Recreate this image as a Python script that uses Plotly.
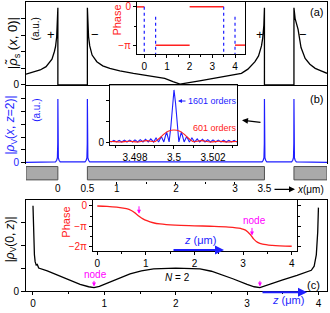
import plotly.graph_objects as go

W, H = 330, 313
def X(p): return p / W
def Y(p): return 1 - p / H

BLUE = "#1e1eff"
RED = "#ff2020"
MAG = "#ff00ff"
FONT = "Liberation Sans, Arial, sans-serif"

# ---------------- data ----------------
# (a) |rho_s(x,0)|
a_x = [-0.54, -0.4, -0.3, -0.2, -0.15, -0.1, -0.06, -0.04, -0.02, -0.01, 0.0, 0.0,
       0.5, 0.5, 0.51, 0.52, 0.54, 0.58, 0.66, 0.76, 0.88, 1.05, 1.28, 1.55, 1.81, 1.95, 2.07,
       2.4, 2.8, 3.11, 3.22, 3.34, 3.4, 3.45, 3.47, 3.49, 3.5, 3.5,
       4.0, 4.0, 4.02, 4.07, 4.12, 4.19, 4.27, 4.36, 4.46, 4.56]
a_y = [0.13, 0.155, 0.18, 0.22, 0.26, 0.31, 0.4, 0.46, 0.58, 0.72, 0.93, 0.0,
       0.0, 0.93, 0.72, 0.58, 0.47, 0.36, 0.28, 0.23, 0.2, 0.17, 0.14, 0.11, 0.08, 0.04, 0.01,
       0.05, 0.1, 0.14, 0.19, 0.28, 0.35, 0.47, 0.56, 0.72, 0.93, 0.0,
       0.0, 0.93, 0.8, 0.67, 0.45, 0.32, 0.25, 0.2, 0.17, 0.14]
plus_minus_x = [-0.12, 0.63, 3.43, 4.16]
plus_minus_txt = ["+", "\u2212", "+", "\u2212"]

# (a) inset: phase (units of pi)
ph_a_x = [-0.32, 0.0, None, 0.5, 2.0, None, 2.0, 3.5, None, 4.0, 4.44]
ph_a_y = [0, 0, None, -1, -1, None, 0, 0, None, -1, -1]
edge_x = [0.0, 0.5, 3.5, 4.0]
edge_top = [0.0, -0.26, 0.0, -0.26]

# (b) |rho_V(x,z=2)|
b_x = [-0.54, -0.04, -0.02, -0.008, -0.002, 0.0, 0.002, 0.008, 0.02, 0.04,
       0.46, 0.48, 0.492, 0.498, 0.5, 0.502, 0.508, 0.52, 0.54,
       3.46, 3.48, 3.492, 3.498, 3.5, 3.502, 3.508, 3.52, 3.54,
       3.96, 3.98, 3.992, 3.998, 4.0, 4.002, 4.008, 4.02, 4.04, 4.56]
b_y = [0.008, 0.015, 0.04, 0.08, 0.3, 0.99, 0.3, 0.08, 0.04, 0.015,
       0.015, 0.04, 0.08, 0.3, 0.99, 0.3, 0.08, 0.04, 0.015,
       0.015, 0.04, 0.08, 0.3, 0.99, 0.3, 0.08, 0.04, 0.015,
       0.015, 0.04, 0.08, 0.3, 0.99, 0.3, 0.08, 0.04, 0.015, 0.008]

# (b) inset: 1601 orders (blue) and 601 orders (red)
ib_blue_x = [3.49670, 3.49678, 3.49692, 3.49705, 3.49719, 3.49732, 3.49746, 3.49759, 3.49773,
             3.49787, 3.49800, 3.49814, 3.49827, 3.49841, 3.49854, 3.49868, 3.49881, 3.49895,
             3.49908, 3.49921, 3.49935, 3.49948, 3.49962, 3.49975, 3.49984, 3.49992, 3.50000,
             3.50008, 3.50016, 3.50025, 3.50038, 3.50052, 3.50065, 3.50079, 3.50092, 3.50106,
             3.50119, 3.50132, 3.50146, 3.50159, 3.50173, 3.50187, 3.50200, 3.50214, 3.50227,
             3.50241, 3.50254, 3.50268, 3.50281, 3.50295, 3.50308, 3.50322, 3.50330]
ib_blue_y = [0.02, 0.005, 0.035, 0.005, 0.035, 0.005, 0.04, 0.005, 0.04,
             0.005, 0.045, 0.005, 0.05, 0.005, 0.055, 0.005, 0.065, 0.005,
             0.08, 0.005, 0.11, 0.005, 0.2, 0.005, 0.3, 0.75, 1.0,
             0.75, 0.3, 0.005, 0.2, 0.005, 0.11, 0.005, 0.08, 0.005,
             0.065, 0.005, 0.055, 0.005, 0.05, 0.005, 0.045, 0.005, 0.04,
             0.005, 0.04, 0.005, 0.035, 0.005, 0.035, 0.005, 0.02]
ib_red_x = [3.49670, 3.49680, 3.49725, 3.49770, 3.49815, 3.49860, 3.49900, 3.49910, 3.49930,
            3.49950, 3.49970, 3.50000, 3.50030, 3.50050, 3.50070, 3.50090, 3.50100, 3.50140,
            3.50185, 3.50230, 3.50275, 3.50320, 3.50330]
ib_red_y = [0.012, 0.015, 0.005, 0.02, 0.005, 0.03, 0.01, 0.03, 0.09,
            0.16, 0.21, 0.235, 0.21, 0.16, 0.09, 0.03, 0.01, 0.03,
            0.005, 0.02, 0.005, 0.015, 0.012]

# mask (gray bars), x in um
mask_x0 = [-0.54, 0.5, 4.0]
mask_x1 = [0.0, 3.5, 4.56]

# (c) |rho_V(0,z)|
c_z = [0.0, 0.004, 0.01, 0.02, 0.03, 0.045, 0.06, 0.08, 0.2, 0.43, 0.66, 0.78, 0.855, 0.93,
       1.05, 1.2, 1.36, 1.52, 1.69, 2.0, 2.34, 2.5, 2.62, 2.8, 3.0, 3.1, 3.18, 3.3, 3.5, 3.7,
       3.84, 3.9, 3.94, 3.97, 3.99, 4.0]
c_v = [3.75, 2.9, 2.1, 1.6, 1.3, 1.15, 1.18, 1.02, 0.9, 0.59, 0.3, 0.2, 0.16, 0.22,
       0.38, 0.57, 0.76, 0.9, 0.98, 1.02, 0.98, 0.88, 0.76, 0.55, 0.3, 0.2, 0.16, 0.3, 0.5, 0.7,
       0.84, 0.92, 1.1, 1.6, 2.6, 3.67]
node_z = [0.855, 3.18]

# (c) inset: phase (units of pi)
ph_c_z = [0.0, 0.2, 0.4, 0.6, 0.7, 0.78, 0.86, 0.94, 1.02, 1.15, 1.29, 1.6, 2.0, 2.32, 2.7,
          2.95, 3.05, 3.15, 3.22, 3.3, 3.4, 3.6, 4.0]
ph_c_p = [0.0, -0.02, -0.06, -0.13, -0.22, -0.35, -0.5, -0.63, -0.72, -0.82, -0.88, -0.94,
          -0.97, -0.99, -1.03, -1.1, -1.18, -1.4, -1.62, -1.78, -1.87, -1.93, -1.97]

# ---------------- figure ----------------
fig = go.Figure()
fig.add_trace(go.Scatter(x=a_x, y=a_y, mode="lines", line=dict(color="black", width=1.3),
                         xaxis="x", yaxis="y"))
fig.add_trace(go.Scatter(x=ph_a_x, y=ph_a_y, mode="lines", line=dict(color=RED, width=1.5),
                         xaxis="x5", yaxis="y5", connectgaps=False))
for ex, et in zip(edge_x, edge_top):
    fig.add_trace(go.Scatter(x=[ex, ex], y=[et, -1.23], mode="lines",
                             line=dict(color=BLUE, width=1.2, dash="dot"),
                             xaxis="x5", yaxis="y5"))
fig.add_trace(go.Scatter(x=b_x, y=b_y, mode="lines", line=dict(color=BLUE, width=1.2),
                         xaxis="x2", yaxis="y2"))
fig.add_trace(go.Scatter(x=ib_blue_x, y=ib_blue_y, mode="lines", line=dict(color=BLUE, width=1.1),
                         xaxis="x6", yaxis="y6"))
fig.add_trace(go.Scatter(x=ib_red_x, y=ib_red_y, mode="lines", line=dict(color=RED, width=1.1,
                         shape="spline"), xaxis="x6", yaxis="y6"))
fig.add_trace(go.Scatter(x=c_z, y=c_v, mode="lines", line=dict(color="black", width=1.3),
                         xaxis="x4", yaxis="y4"))
fig.add_trace(go.Scatter(x=ph_c_z, y=ph_c_p, mode="lines", line=dict(color=RED, width=1.3,
                         shape="spline"), xaxis="x7", yaxis="y7"))

tickfont = dict(family=FONT, size=10, color="black")
base = dict(showgrid=False, zeroline=False, linecolor="black", linewidth=1, tickcolor="black",
            tickfont=tickfont, tickwidth=1)
xr = [-0.54, 4.56]
dom_x = [X(26), X(327)]

layout = dict(
    width=W, height=H, margin=dict(l=0, r=0, t=0, b=0), showlegend=False,
    paper_bgcolor="white", plot_bgcolor="white", font=dict(family=FONT, size=10),
    xaxis=dict(base, domain=dom_x, range=xr, anchor="y", showline=True, mirror=True,
               ticks="", showticklabels=False),
    yaxis=dict(base, domain=[Y(87), Y(2)], range=[-0.005, 1.0], anchor="x", showline=True,
               mirror=True, ticks="outside", ticklen=4, tickvals=[0, 0.2, 0.4, 0.6, 0.8],
               ticktext=["0", "", "", "", ""]),
    xaxis2=dict(base, domain=dom_x, range=xr, anchor="y2", showline=False, ticks="",
                showticklabels=False),
    yaxis2=dict(base, domain=[Y(167), Y(87)], range=[-0.015, 1.2], anchor="x2", showline=True,
                mirror=True, ticks="outside", ticklen=4, tickvals=[0, 0.2, 0.4, 0.6, 0.8, 1.0],
                ticktext=["0", "", "", "", "", ""], tickfont=dict(family=FONT, size=10, color=BLUE)),
    xaxis3=dict(base, domain=dom_x, range=xr, anchor="y3", showline=False, ticks="",
                tickvals=[0, 0.5, 1, 2, 3, 3.5], ticktext=["0", "0.5", "1", "2", "3", "3.5"],
                minor=dict(ticks="outside", ticklen=2, tickvals=[1, 1.5, 2, 2.5, 3],
                           tickcolor="black")),
    yaxis3=dict(domain=[Y(185), Y(169)], range=[0, 1], anchor="x3", visible=False),
    xaxis4=dict(base, domain=dom_x, range=[-0.098, 4.12], anchor="y4", showline=True, mirror=True,
                ticks="outside", ticklen=3, tickvals=[0, 1, 2, 3, 4],
                minor=dict(ticks="outside", ticklen=2, dtick=0.5, tick0=0, tickcolor="black")),
    yaxis4=dict(base, domain=[Y(297), Y(204)], range=[0, 4], anchor="x4", showline=True,
                mirror=True, ticks="outside", ticklen=4, tickvals=[0, 1, 2, 3],
                ticktext=["0", "", "", ""]),
    xaxis5=dict(base, domain=[X(137), X(245)], range=[-0.32, 4.44], anchor="y5", showline=True,
                mirror=True, ticks="outside", ticklen=3, tickvals=[0, 1, 2, 3, 4],
                minor=dict(ticks="outside", ticklen=2, dtick=0.5, tick0=0, tickcolor="black")),
    yaxis5=dict(base, domain=[Y(55), Y(2)], range=[-1.23, 0.128], anchor="x5", showline=True,
                mirror=True, ticks="outside", ticklen=3, tickvals=[0, -1],
                ticktext=["0", "\u2212\u03c0"], tickfont=dict(family=FONT, size=10, color=RED),
                minor=dict(ticks="outside", ticklen=2, tickvals=[-0.5], tickcolor="black")),
    xaxis6=dict(base, domain=[X(110), X(237)], range=[3.49672, 3.50323], anchor="y6",
                showline=True, mirror=True, ticks="outside", ticklen=3,
                tickvals=[3.498, 3.5, 3.502], ticktext=["3.498", "3.5", "3.502"],
                minor=dict(ticks="outside", ticklen=2, tickvals=[3.497, 3.499, 3.501, 3.503],
                           tickcolor="black")),
    yaxis6=dict(base, domain=[Y(148), Y(87)], range=[-0.056, 1.088], anchor="x6", showline=True,
                mirror=True, ticks="outside", ticklen=3, tickvals=[0, 0.4, 0.8],
                ticktext=["0", "", ""]),
    xaxis7=dict(base, domain=[X(93), X(297)], range=[-0.088, 4.109], anchor="y7", showline=True,
                mirror=True, ticks="outside", ticklen=3, tickvals=[0, 1, 2, 3, 4],
                minor=dict(ticks="outside", ticklen=2, dtick=0.5, tick0=0, tickcolor="black")),
    yaxis7=dict(base, domain=[Y(256), Y(204)], range=[-2.206, 0.288], anchor="x7", showline=True,
                mirror="allticks", ticks="outside", ticklen=3, tickvals=[0, -1, -2],
                ticktext=["0", "\u2212\u03c0", "\u22122\u03c0"],
                tickfont=dict(family=FONT, size=10, color=RED),
                minor=dict(ticks="outside", ticklen=2, tickvals=[-0.5, -1.5], tickcolor="black")),
)
fig.update_layout(**layout)

# gray mask bars
for x0, x1 in zip(mask_x0, mask_x1):
    fig.add_shape(type="rect", xref="x3", yref="y3", x0=x0, x1=x1, y0=0.1, y1=0.95,
                  fillcolor="#aaaaaa", line=dict(color="#505050", width=1))

anns = []
def txt(t, px, py, size=10, color="black", angle=0, xanchor="center", **kw):
    anns.append(dict(text=t, x=X(px), y=Y(py), xref="paper", yref="paper", showarrow=False,
                     font=dict(family=FONT, size=size, color=color), textangle=angle,
                     xanchor=xanchor, yanchor="middle", **kw))
def arrow(tx, ty, hx, hy, color="black", width=1.2, head=2, size=1.0):
    anns.append(dict(text="", x=X(hx), y=Y(hy), xref="paper", yref="paper", showarrow=True,
                     ax=tx - hx, ay=ty - hy, axref="pixel", ayref="pixel", arrowcolor=color,
                     arrowwidth=width, arrowhead=head, arrowsize=size, standoff=0, startstandoff=0))

# panel (a)
txt("|<i>\u03c1\u0303</i><sub>s</sub> (<i>x</i>, 0)|", 13, 44, size=13, angle=-90)
txt("(a.u.)", 35, 30, size=10, angle=-90)
for xv, t in zip(plus_minus_x, plus_minus_txt):
    px = 26 + (xv + 0.54) / 5.10 * 301
    txt(t, px, 35, size=13)
txt("(a)", 316, 12, size=11)
txt("Phase", 117, 21, size=11, color=RED, angle=-90)

# panel (b)
txt("|<i>\u03c1</i><sub>V</sub>(<i>x</i>, <i>z</i>=2)|", 11, 128, size=12, color=BLUE, angle=-90)
txt("(a.u.)", 37, 113, size=10, color=BLUE, angle=-90)
txt("(b)", 316, 101, size=11)
txt("1601 orders", 186, 103, size=9, color=BLUE, xanchor="left")
arrow(187, 103, 178, 103, color=BLUE, width=1, head=2, size=0.8)
txt("601 orders", 191, 130, size=9, color=RED, xanchor="left")
arrow(262, 125, 242, 122.5, color="black", width=1.2, head=2, size=1.0)

# x row
arrow(273, 193, 295, 193, color="black", width=1.2, head=2, size=1.0)
txt("<i>x</i>(\u03bcm)", 295, 193, size=10, xanchor="left")

# panel (c)
txt("|<i>\u03c1</i><sub>V</sub>(0, <i>z</i>)|", 11, 244, size=12, angle=-90)
txt("Phase", 66, 227, size=11, color=RED, angle=-90)
txt("node", 95, 280, size=10, color=MAG)
txt("node", 254, 225, size=10, color=MAG)
for nz in node_z:
    px = 26 + (nz + 0.098) / 4.218 * 301
    arrow(px, 285, px, 292, color=MAG, width=1, head=2, size=0.8)
arrow(139, 209, 139, 218, color=MAG, width=1, head=2, size=0.8)
arrow(252, 231, 252, 240, color=MAG, width=1, head=2, size=0.8)
txt("<i>N</i> = 2", 177, 283, size=10)
txt("(c)", 313, 291, size=11)
txt("<i>z</i> (\u03bcm)", 200, 245, size=11, color=BLUE)
arrow(172, 255, 224, 255, color=BLUE, width=2, head=2, size=0.9)
txt("<i>z</i> (\u03bcm)", 288, 306, size=11, color=BLUE)
arrow(261, 298, 307, 298, color=BLUE, width=2, head=2, size=0.9)

fig.update_layout(annotations=anns)
fig.write_html("out.html", config={"displayModeBar": False},
               post_script="document.body.style.margin='0';document.body.style.overflow='hidden';")
